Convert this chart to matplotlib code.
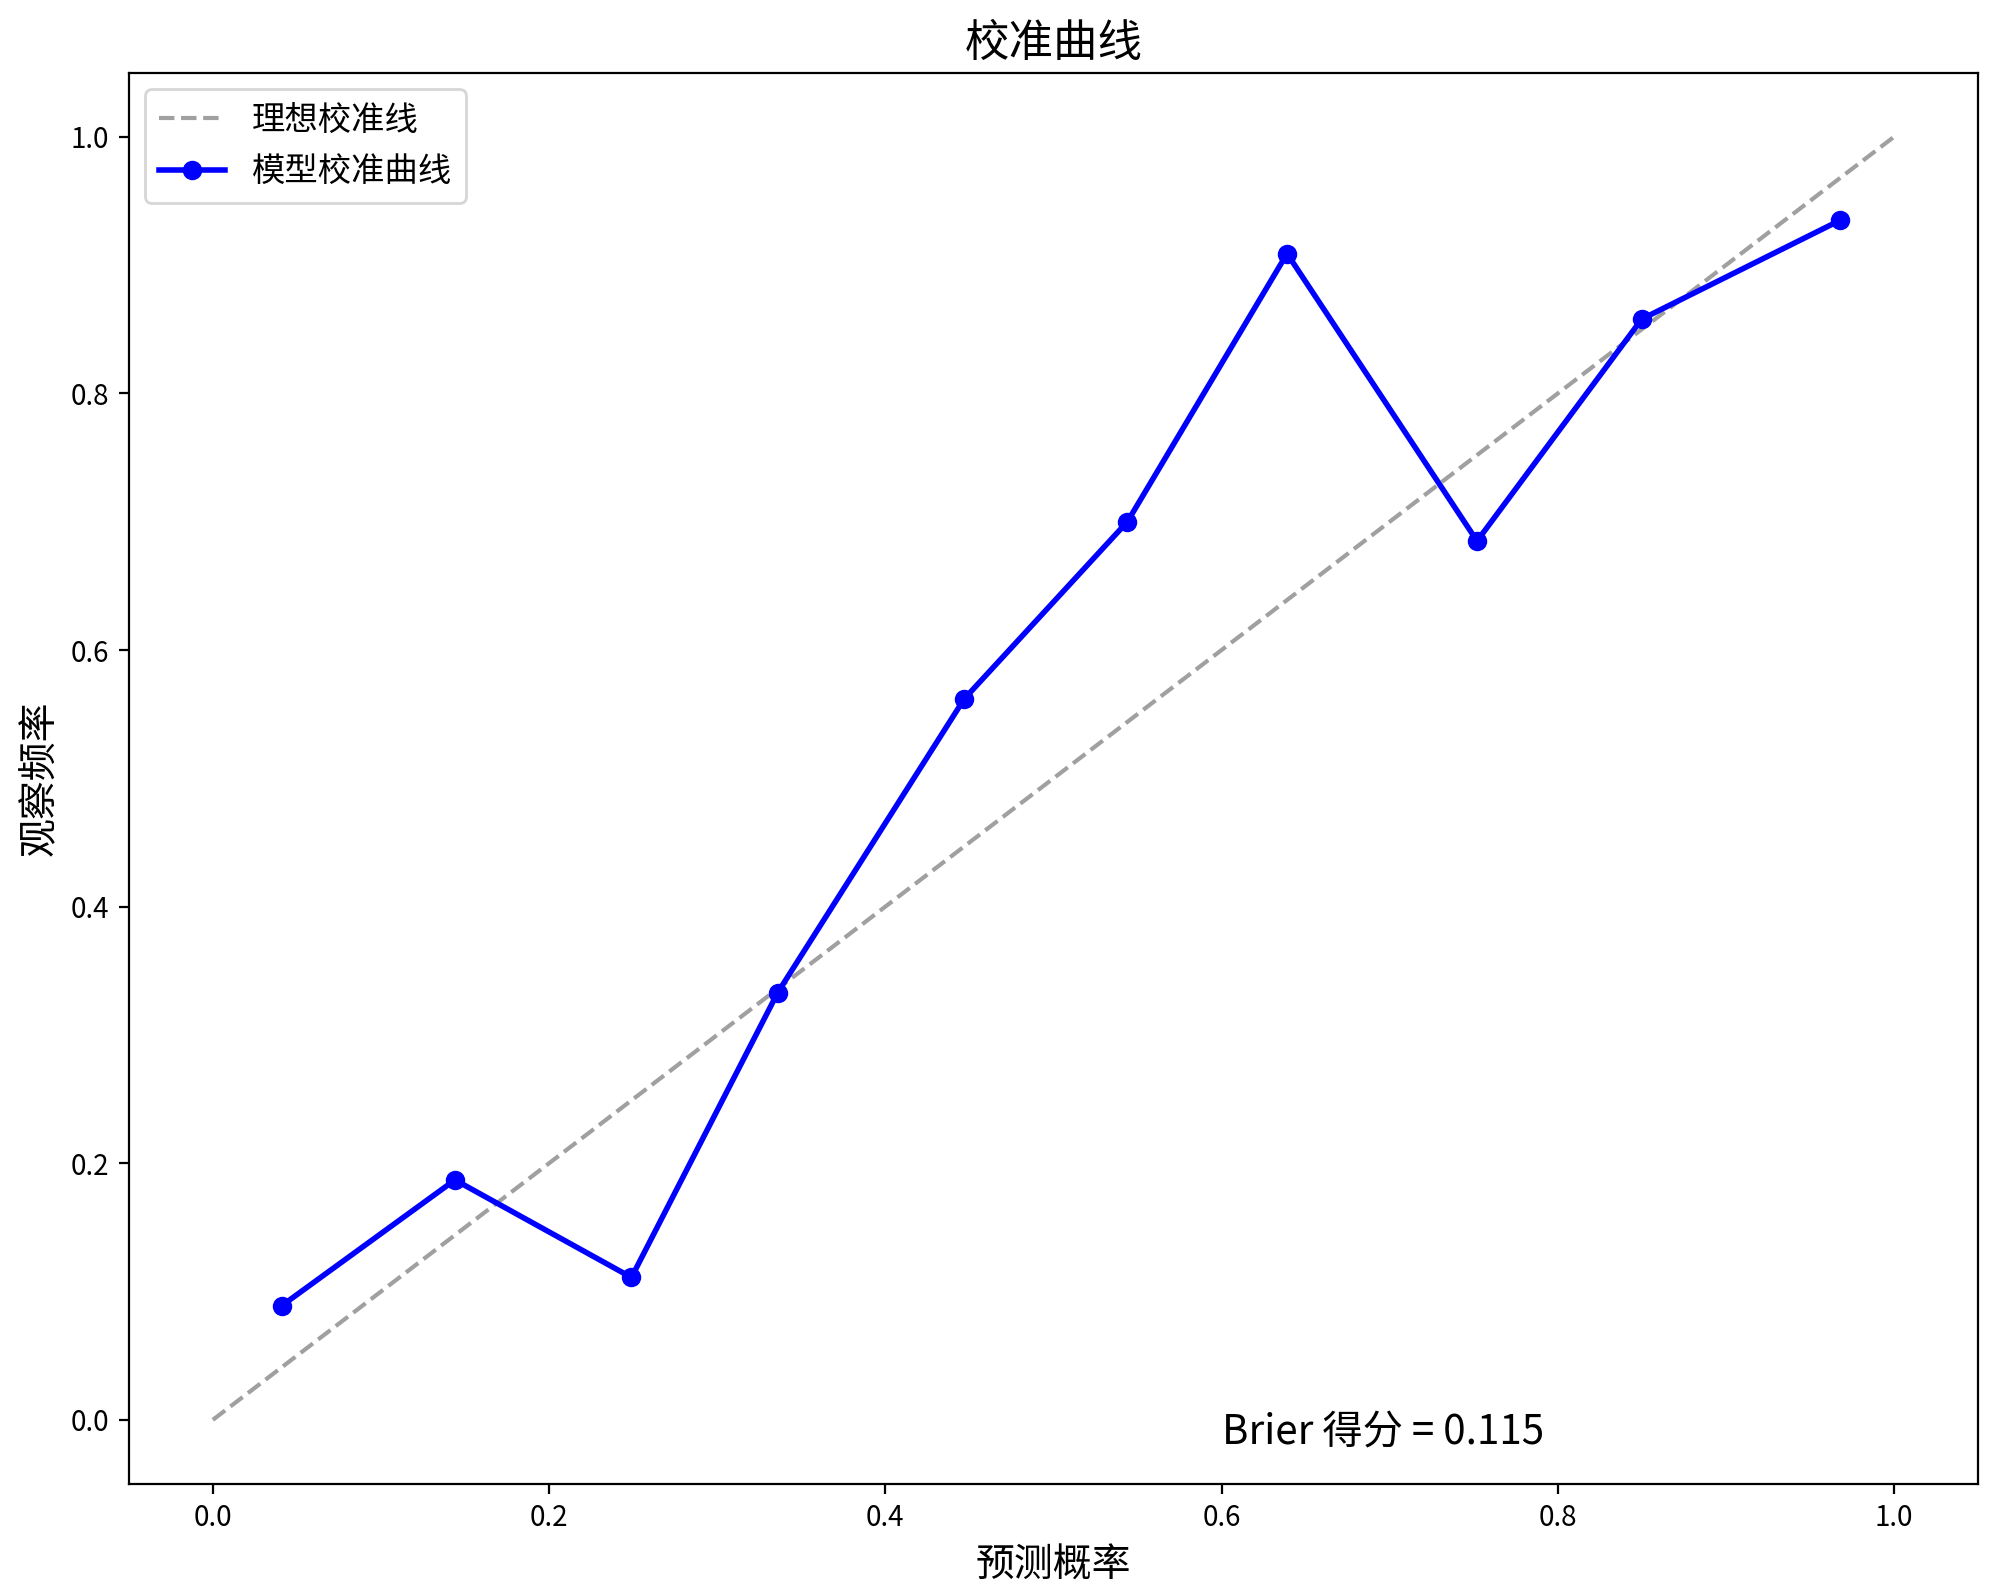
import matplotlib
matplotlib.use("Agg")
import matplotlib.pyplot as plt

plt.rcParams["font.family"] = ["Noto Sans CJK SC", "DejaVu Sans"]
plt.rcParams["axes.unicode_minus"] = False

# values
prob_pred = [0.041, 0.144, 0.249, 0.336, 0.447, 0.544, 0.639, 0.752, 0.850, 0.968]
prob_true = [0.089, 0.187, 0.111, 0.333, 0.562, 0.700, 0.909, 0.685, 0.858, 0.935]
ideal = [0.0, 1.0]
brier = 0.115

fig, ax = plt.subplots(figsize=(10, 7.975))
ax.plot(ideal, ideal, linestyle="--", color="gray", alpha=0.75, label="理想校准线")
ax.plot(prob_pred, prob_true, marker="o", color="blue", linewidth=2, label="模型校准曲线")

ax.set_xlabel("预测概率", fontsize=14)
ax.set_ylabel("观察频率", fontsize=14)
ax.set_title("校准曲线", fontsize=16)
ax.legend(loc="upper left", fontsize=12)
ax.text(0.6, -0.01, f"Brier 得分 = {brier:.3f}", fontsize=14.5, va="center", ha="left")

fig.subplots_adjust(left=0.0644, right=0.989, top=0.9544, bottom=0.0696)
fig.savefig("out.png", dpi=200)
